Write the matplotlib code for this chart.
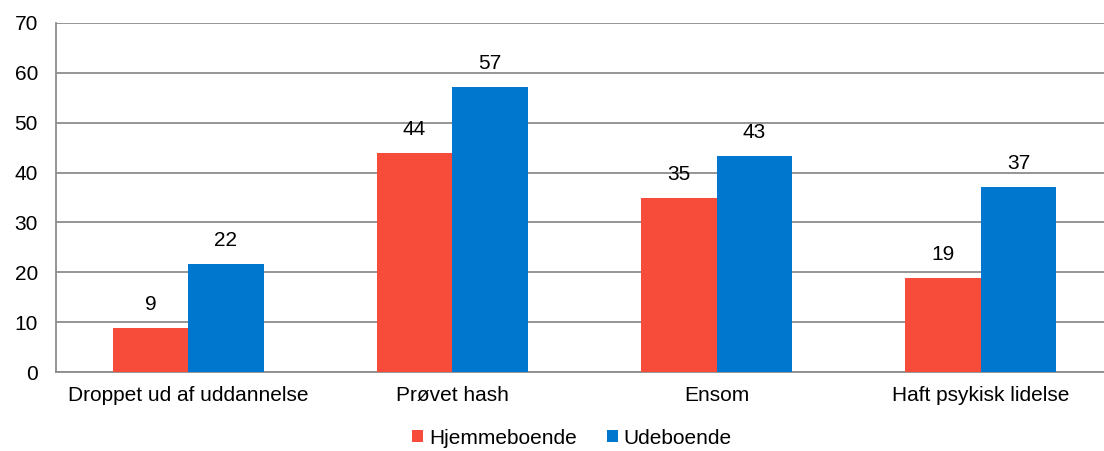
import numpy as np
import matplotlib.pyplot as plt

plt.rcParams['font.family'] = ['Liberation Sans', 'DejaVu Sans']

categories = ["Droppet ud af uddannelse", "Prøvet hash", "Ensom", "Haft psykisk lidelse"]
hjemme = [8.8, 43.9, 34.9, 18.85]
ude = [21.6, 57.1, 43.3, 37.1]
series_names = ["Hjemmeboende", "Udeboende"]

red = '#F84C3B'
blue = '#0077CE'
grid_col = '#8C8C8C'

fig = plt.figure(figsize=(11.04, 4.51), dpi=100)
# plot area runs slightly past the right edge, as in the original
ax = fig.add_axes([56 / 1104, 1 - 372 / 451, 1057 / 1104, 349 / 451])

x = np.arange(len(categories))
w = 0.286
b1 = ax.bar(x - w / 2, hjemme, w, color=red, label=series_names[0], zorder=3)
b2 = ax.bar(x + w / 2, ude, w, color=blue, label=series_names[1], zorder=3)

for bars, vals in [(b1, hjemme), (b2, ude)]:
    for r, v in zip(bars, vals):
        ax.text(r.get_x() + r.get_width() / 2, v + 4.7, f"{v:.0f}",
                ha='center', va='center', fontsize=15)

ax.set_xlim(-0.5, len(categories) - 0.5)
ax.set_ylim(0, 70)
ax.set_yticks(range(0, 71, 10))
ax.set_xticks(x)
ax.set_xticklabels(categories, fontsize=15)
ax.tick_params(axis='y', labelsize=15, length=0, pad=13)
ax.tick_params(axis='x', length=0, pad=10)
ax.yaxis.grid(True, color=grid_col, linewidth=1.3, zorder=0)
for s in ['top', 'right']:
    ax.spines[s].set_visible(False)
for s in ['left', 'bottom']:
    ax.spines[s].set_color(grid_col)
    ax.spines[s].set_linewidth(1.3)

fig.legend(handles=[b1, b2], loc='center', bbox_to_anchor=(0.518, 1 - 438 / 451),
           ncol=2, frameon=False, fontsize=15, handlelength=0.53,
           handleheight=0.53, handletextpad=0.29, columnspacing=1.44)

fig.savefig('out.png', dpi=100)
